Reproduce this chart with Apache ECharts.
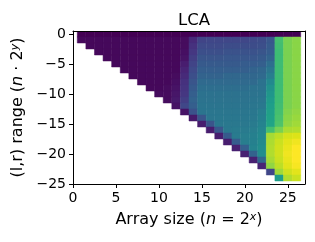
<!DOCTYPE html>
<html>
<head>
<meta charset="utf-8">
<script src="https://cdn.jsdelivr.net/npm/echarts@6/dist/echarts.min.js"></script>
<style>
html,body{margin:0;padding:0;background:#fff;}
#chart{width:315px;height:242px;}
</style>
</head>
<body>
<div id="chart"></div>
<script>
// Tick labels
const xTicks = [0, 5, 10, 15, 20, 25];
const yTicks = [-25, -20, -15, -10, -5, 0];
// Column positions (array size exponent x)
const columnX = [1,2,3,4,5,6,7,8,9,10,11,12,13,14,15,16,17,18,19,20,21,22,23,24,25,26];
// Values per column, row y = 0, -1, -2, ... (normalized time, 0..1)
const col01 = [0.00, 0.02];
const col02 = [0.00, 0.02, 0.02];
const col03 = [0.00, 0.02, 0.02, 0.02];
const col04 = [0.00, 0.02, 0.02, 0.02, 0.02];
const col05 = [0.00, 0.02, 0.02, 0.02, 0.02, 0.02];
const col06 = [0.00, 0.02, 0.02, 0.02, 0.02, 0.02, 0.02];
const col07 = [0.00, 0.02, 0.02, 0.02, 0.02, 0.02, 0.02, 0.02];
const col08 = [0.00, 0.02, 0.02, 0.02, 0.02, 0.02, 0.02, 0.02, 0.02];
const col09 = [0.00, 0.02, 0.02, 0.02, 0.02, 0.02, 0.02, 0.02, 0.02, 0.02];
const col10 = [0.00, 0.02, 0.02, 0.02, 0.02, 0.02, 0.02, 0.02, 0.02, 0.02, 0.03];
const col11 = [0.00, 0.02, 0.02, 0.02, 0.02, 0.02, 0.02, 0.02, 0.02, 0.03, 0.03, 0.03];
const col12 = [0.00, 0.02, 0.02, 0.02, 0.02, 0.02, 0.02, 0.03, 0.04, 0.05, 0.06, 0.07, 0.05];
const col13 = [0.00, 0.03, 0.03, 0.04, 0.05, 0.08, 0.10, 0.12, 0.14, 0.15, 0.16, 0.18, 0.21, 0.05];
const col14 = [0.00, 0.12, 0.14, 0.16, 0.18, 0.20, 0.22, 0.24, 0.26, 0.28, 0.30, 0.31, 0.30, 0.25, 0.07];
const col15 = [0.00, 0.20, 0.22, 0.24, 0.26, 0.28, 0.30, 0.31, 0.33, 0.34, 0.35, 0.36, 0.37, 0.37, 0.26, 0.08];
const col16 = [0.00, 0.21, 0.22, 0.24, 0.26, 0.28, 0.30, 0.31, 0.33, 0.34, 0.35, 0.36, 0.37, 0.38, 0.38, 0.26, 0.08];
const col17 = [0.00, 0.21, 0.22, 0.24, 0.26, 0.28, 0.30, 0.31, 0.33, 0.34, 0.35, 0.36, 0.37, 0.38, 0.39, 0.39, 0.27, 0.08];
const col18 = [0.00, 0.21, 0.23, 0.25, 0.27, 0.28, 0.30, 0.32, 0.33, 0.34, 0.35, 0.36, 0.37, 0.38, 0.39, 0.40, 0.40, 0.28, 0.08];
const col19 = [0.00, 0.21, 0.23, 0.25, 0.27, 0.28, 0.30, 0.32, 0.33, 0.34, 0.35, 0.36, 0.37, 0.38, 0.39, 0.40, 0.41, 0.41, 0.29, 0.09];
const col20 = [0.00, 0.21, 0.23, 0.25, 0.27, 0.29, 0.30, 0.32, 0.33, 0.34, 0.35, 0.36, 0.37, 0.38, 0.39, 0.40, 0.41, 0.42, 0.42, 0.30, 0.09];
const col21 = [0.00, 0.22, 0.23, 0.25, 0.27, 0.29, 0.31, 0.32, 0.33, 0.35, 0.36, 0.37, 0.38, 0.39, 0.40, 0.41, 0.42, 0.43, 0.43, 0.44, 0.31, 0.09];
const col22 = [0.00, 0.23, 0.24, 0.26, 0.28, 0.30, 0.32, 0.33, 0.35, 0.36, 0.37, 0.38, 0.40, 0.42, 0.43, 0.44, 0.45, 0.46, 0.47, 0.48, 0.48, 0.32, 0.10];
const col23 = [0.00, 0.27, 0.28, 0.29, 0.31, 0.34, 0.38, 0.42, 0.46, 0.50, 0.52, 0.54, 0.55, 0.56, 0.57, 0.58, 0.70, 0.86, 0.87, 0.88, 0.88, 0.86, 0.83, 0.21];
const col24 = [0.00, 0.70, 0.69, 0.68, 0.68, 0.68, 0.68, 0.68, 0.68, 0.68, 0.68, 0.68, 0.69, 0.70, 0.71, 0.72, 0.80, 0.90, 0.92, 0.93, 0.93, 0.92, 0.90, 0.85, 0.55];
const col25 = [0.00, 0.80, 0.80, 0.80, 0.80, 0.80, 0.80, 0.80, 0.80, 0.80, 0.80, 0.80, 0.80, 0.81, 0.82, 0.83, 0.87, 0.94, 0.96, 0.97, 0.98, 0.97, 0.96, 0.93, 0.88];
const col26 = [0.00, 0.82, 0.82, 0.82, 0.82, 0.82, 0.82, 0.82, 0.82, 0.82, 0.82, 0.82, 0.82, 0.83, 0.84, 0.85, 0.88, 0.95, 0.98, 1.00, 1.00, 1.00, 0.99, 0.96, 0.92];

const columns = [col01,col02,col03,col04,col05,col06,col07,col08,col09,col10,col11,col12,col13,
                 col14,col15,col16,col17,col18,col19,col20,col21,col22,col23,col24,col25,col26];

const viridis = ['#440154','#471365','#482475','#463480','#414487','#3b528b','#355f8d','#2c728e','#2a788e',
                 '#24868e','#21918c','#1f9e89','#22a884','#35b779','#44bf70','#5ec962','#7ad151','#a0da39',
                 '#bddf26','#dde318','#fde725'];

const cells = [];
columns.forEach((vals, ci) => {
  vals.forEach((v, ri) => { cells.push([columnX[ci], -ri, v]); });
});

const FONT = 'DejaVu Sans';
const minus = v => String(v).replace('-', '\u2212');
const richLabel = {
  i: {fontFamily: FONT, fontSize: 16, fontStyle: 'italic', color: '#000'},
  s: {fontFamily: FONT, fontSize: 11, fontStyle: 'italic', verticalAlign: 'top', color: '#000'}
};

const chart = echarts.init(document.getElementById('chart'), null, {renderer: 'canvas'});
chart.setOption({
  animation: false,
  backgroundColor: '#fff',
  title: {
    text: 'LCA', left: 189, top: 7, textAlign: 'center',
    textStyle: {fontFamily: FONT, fontSize: 16.5, fontWeight: 'normal', color: '#000'}
  },
  grid: {left: 73, right: 10, top: 31, bottom: 58, containLabel: false},
  visualMap: {show: false, type: 'continuous', min: 0, max: 1, dimension: 2, seriesIndex: 0,
              inRange: {color: viridis}},
  xAxis: [{
    type: 'value', min: 0, max: 27, z: 10,
    name: 'Array size ({i|n} = 2{s|x})', nameLocation: 'middle', nameGap: 28,
    nameTextStyle: {fontFamily: FONT, fontSize: 16, color: '#000', rich: richLabel},
    axisLine: {show: true, onZero: false, lineStyle: {color: '#000', width: 1}},
    axisTick: {show: true, inside: false, length: 4, customValues: xTicks, lineStyle: {color: '#000'}},
    axisLabel: {customValues: xTicks, margin: 7, fontFamily: FONT, fontSize: 14, color: '#000', formatter: minus},
    splitLine: {show: false}
  }, {
    type: 'value', min: 0, max: 27, position: 'top', z: 10,
    axisLine: {show: true, onZero: false, lineStyle: {color: '#000', width: 1}},
    axisTick: {show: false}, axisLabel: {show: false}, splitLine: {show: false}
  }],
  yAxis: [{
    type: 'value', min: -25, max: 0.5, z: 10,
    name: '(l,r) range ({i|n} · 2{s|y})', nameLocation: 'middle', nameGap: 43, nameRotate: 90,
    nameTextStyle: {fontFamily: FONT, fontSize: 16, color: '#000', rich: richLabel},
    axisLine: {show: true, onZero: false, lineStyle: {color: '#000', width: 1}},
    axisTick: {show: true, inside: false, length: 4, customValues: yTicks, lineStyle: {color: '#000'}},
    axisLabel: {customValues: yTicks, margin: 7, fontFamily: FONT, fontSize: 14, color: '#000', formatter: minus},
    splitLine: {show: false}
  }, {
    type: 'value', min: -25, max: 0.5, position: 'right', z: 10,
    axisLine: {show: true, onZero: false, lineStyle: {color: '#000', width: 1}},
    axisTick: {show: false}, axisLabel: {show: false}, splitLine: {show: false}
  }],
  series: [{
    type: 'custom',
    coordinateSystem: 'cartesian2d',
    xAxisIndex: 0, yAxisIndex: 0,
    clip: true,
    encode: {x: 0, y: 1},
    data: cells,
    renderItem: function (params, api) {
      const x = api.value(0), y = api.value(1);
      const p0 = api.coord([x - 0.5, y + 0.5]);
      const p1 = api.coord([x + 0.5, y - 0.5]);
      const c = api.visual('color');
      return {
        type: 'rect',
        shape: {x: p0[0], y: p0[1], width: p1[0] - p0[0], height: p1[1] - p0[1]},
        style: {fill: c, stroke: c, lineWidth: 0.5}
      };
    }
  }]
});
</script>
</body>
</html>
